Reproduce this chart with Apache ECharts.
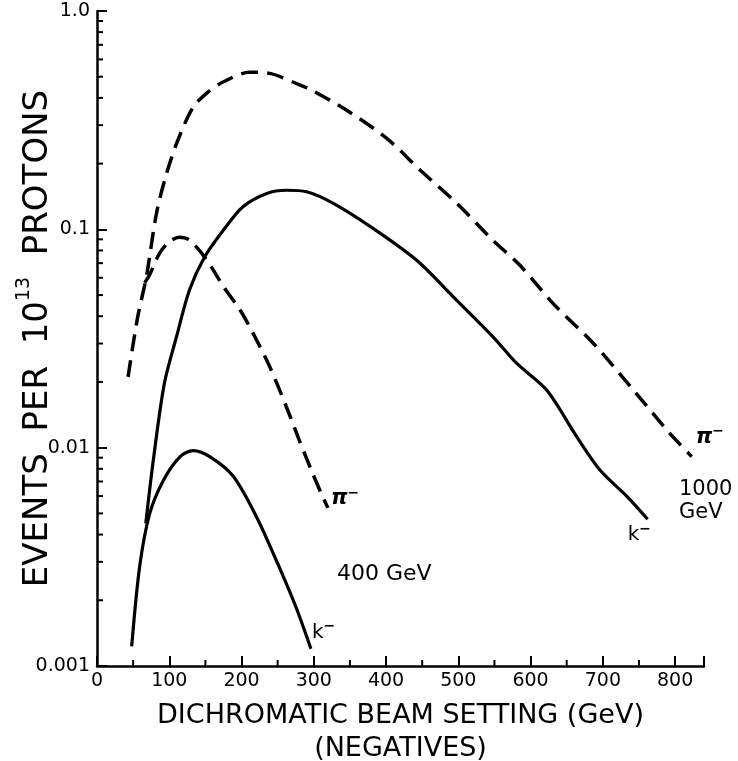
<!DOCTYPE html>
<html><head><meta charset="utf-8">
<script src="https://cdn.jsdelivr.net/npm/echarts@6/dist/echarts.min.js"></script>
<style>html,body{margin:0;padding:0;background:#fff}#c{width:738px;height:761px}</style>
</head><body><div id="c"></div><script>
// pi- , 1000 GeV (dashed)
const piHighX = [43, 56, 68.5, 82.4, 96, 112, 133, 152, 175, 211, 239, 281, 295, 345, 401, 447, 498, 548, 585, 631, 687, 742, 793, 823];
const piHighY = [0.0211, 0.0392, 0.0611, 0.1188, 0.179, 0.2565, 0.363, 0.421, 0.474, 0.524, 0.518, 0.458, 0.438, 0.352, 0.261, 0.187, 0.1315, 0.089, 0.0686, 0.0458, 0.030, 0.0184, 0.0116, 0.0091];
// k- , 1000 GeV (solid)
const kHighX = [67.5, 78, 93, 110, 128, 149, 175, 202, 235, 262, 290, 327, 382, 442, 493, 548, 581, 622, 664, 696, 733, 762];
const kHighY = [0.0045, 0.0088, 0.0195, 0.0322, 0.0527, 0.0749, 0.0993, 0.127, 0.146, 0.151, 0.1486, 0.1315, 0.101, 0.0723, 0.0491, 0.0322, 0.0243, 0.0184, 0.0112, 0.0079, 0.006, 0.0047];
// pi- , 400 GeV (dashed)
const piLowX = [66, 72.7, 86.5, 100, 114, 128, 152, 175, 198, 216, 239, 262, 280, 296.5, 310, 319.5];
const piLowY = [0.057, 0.0618, 0.0776, 0.0877, 0.092, 0.0893, 0.0723, 0.0546, 0.0427, 0.0334, 0.0235, 0.0154, 0.0108, 0.0079, 0.0062, 0.0053];
// k- , 400 GeV (solid)
const kLowX = [48, 59, 73, 92, 115, 133, 156, 188.5, 221, 258, 277, 296];
const kLowY = [0.00123, 0.00285, 0.0050, 0.0071, 0.0091, 0.0097, 0.0091, 0.0074, 0.0048, 0.00256, 0.0018, 0.0012];

const yTickValues = [0.001, 0.01, 0.1, 1];
const yTickLabels = ['0.001', '0.01', '0.1', '1.0'];
const xTickLabels = ['0', '100', '200', '300', '400', '500', '600', '700', '800'];
const yMinorTicks = [0.002,0.003,0.004,0.005,0.006,0.007,0.008,0.009,
                     0.02,0.03,0.04,0.05,0.06,0.07,0.08,0.09,
                     0.2,0.3,0.4,0.5,0.6,0.7,0.8,0.9];
const xMinorTicks = [50,150,250,350,450,550,650,750];

const FONT = 'DejaVu Sans';
const zip = (xs, ys) => xs.map((x, i) => [x, ys[i]]);

const chart = echarts.init(document.getElementById('c'), null, {renderer: 'canvas'});

const lineBase = {type: 'line', symbol: 'none', smooth: 0.3, z: 5, silent: true};
const supStyle = {fontFamily: FONT, fontSize: 14, fontWeight: 'bold', color: '#000', verticalAlign: 'top', padding: [0, 0, 12, 0]};
const piStyle = {fontFamily: FONT, fontSize: 21, fontWeight: 'bold', fontStyle: 'italic', color: '#000'};
const kStyle = {fontFamily: FONT, fontSize: 20, color: '#000'};

const option = {
  animation: false,
  backgroundColor: '#fff',
  grid: {left: 97, right: 34, top: 11, bottom: 95, containLabel: false, outerBoundsMode: 'none'},
  xAxis: {
    type: 'value', min: 0, max: 840, interval: 100,
    axisLine: {show: true, lineStyle: {color: '#000', width: 2.5}},
    axisTick: {show: true, inside: true, length: 10, lineStyle: {color: '#000', width: 2}},
    splitLine: {show: false},
    axisLabel: {
      color: '#000', fontFamily: FONT, fontSize: 19, margin: 6,
      formatter: v => (v % 100 === 0 && v <= 800) ? xTickLabels[v / 100] : ''
    },
    name: '{a|DICHROMATIC BEAM SETTING (GeV)}\n{a|(NEGATIVES)}',
    nameLocation: 'middle', nameGap: 33, nameMoveOverlap: false,
    nameTextStyle: {rich: {a: {fontFamily: FONT, fontSize: 27, color: '#000', lineHeight: 33}}}
  },
  yAxis: {
    type: 'log', logBase: 10, min: 0.001, max: 1,
    axisLine: {show: true, lineStyle: {color: '#000', width: 2.5}},
    axisTick: {show: true, inside: true, length: 10, lineStyle: {color: '#000', width: 2}},
    splitLine: {show: false},
    axisLabel: {
      color: '#000', fontFamily: FONT, fontSize: 19, margin: 7,
      formatter: v => {
        const i = Math.round(Math.log10(v)) + 3;
        return yTickLabels[i] !== undefined ? yTickLabels[i] : '';
      }
    },
    name: '{a|EVENTS  PER  10}{s|13}{a|  PROTONS}',
    nameLocation: 'middle', nameGap: 42, nameRotate: 90, nameMoveOverlap: false,
    nameTextStyle: {rich: {
      a: {fontFamily: FONT, fontSize: 34, color: '#000', lineHeight: 40, verticalAlign: 'bottom'},
      s: {fontFamily: FONT, fontSize: 19, color: '#000', lineHeight: 40, verticalAlign: 'top', padding: [0, 0, 17, 0]}
    }}
  },
  series: [
    Object.assign({}, lineBase, {
      name: 'pi1000', data: zip(piHighX, piHighY),
      lineStyle: {color: '#000', width: 3.5, type: [17, 9]},
      endLabel: {show: true, formatter: '{p|π}{s|−}', offset: [4, -19], distance: 0,
        rich: {p: piStyle, s: supStyle}}
    }),
    Object.assign({}, lineBase, {
      name: 'k1000', data: zip(kHighX, kHighY),
      lineStyle: {color: '#000', width: 3.2, type: 'solid'},
      endLabel: {show: true, formatter: '{p|k}{s|−}', offset: [-20, 16], distance: 0,
        rich: {p: kStyle, s: supStyle}}
    }),
    Object.assign({}, lineBase, {
      name: 'pi400', data: zip(piLowX, piLowY),
      lineStyle: {color: '#000', width: 3.5, type: [17, 9]},
      endLabel: {show: true, formatter: '{p|π}{s|−}', offset: [3, -9], distance: 0,
        rich: {p: piStyle, s: supStyle}}
    }),
    Object.assign({}, lineBase, {
      name: 'k400', data: zip(kLowX, kLowY),
      lineStyle: {color: '#000', width: 3.2, type: 'solid'},
      endLabel: {show: true, formatter: '{p|k}{s|−}', offset: [1, -16], distance: 0,
        rich: {p: kStyle, s: supStyle}}
    }),
    {
      type: 'custom', name: 'yMinor', silent: true, clip: false, z: 6,
      data: yMinorTicks.map(v => [0, v]),
      renderItem: (params, api) => {
        const p = api.coord([api.value(0), api.value(1)]);
        return {type: 'line', shape: {x1: p[0], y1: p[1], x2: p[0] + 6, y2: p[1]},
                style: {stroke: '#000', lineWidth: 2}};
      }
    },
    {
      type: 'custom', name: 'xMinor', silent: true, clip: false, z: 6,
      data: xMinorTicks.map(v => [v, 0.001]),
      renderItem: (params, api) => {
        const p = api.coord([api.value(0), api.value(1)]);
        return {type: 'line', shape: {x1: p[0], y1: p[1], x2: p[0], y2: p[1] - 6},
                style: {stroke: '#000', lineWidth: 2}};
      }
    }
  ],
  graphic: [
    {type: 'text', left: 337, top: 563, silent: true,
     style: {text: '400 GeV', font: '22px "DejaVu Sans"', fill: '#000'}},
    {type: 'text', left: 679, top: 478, silent: true,
     style: {text: '1000\nGeV', font: '21px "DejaVu Sans"', fill: '#000', align: 'center', lineHeight: 23, x: 27}}
  ]
};
chart.setOption(option);
</script></body></html>
